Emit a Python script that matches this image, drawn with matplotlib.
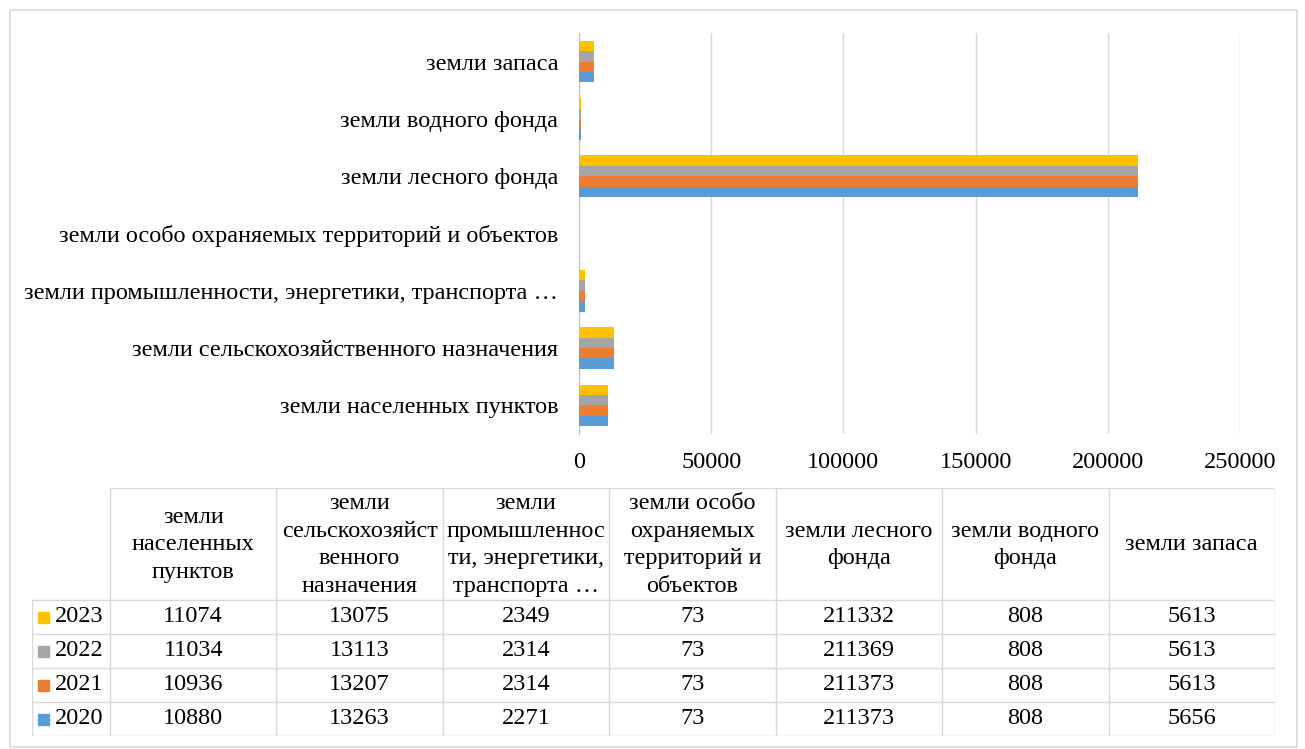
import numpy as np
import matplotlib
matplotlib.use('Agg')
import matplotlib.pyplot as plt
from matplotlib.patches import Rectangle

plt.rcParams['font.family'] = ['Liberation Serif', 'DejaVu Serif']

categories = ['земли населенных пунктов',
              'земли сельскохозяйственного назначения',
              'земли промышленности, энергетики, транспорта …',
              'земли особо охраняемых территорий и объектов',
              'земли лесного фонда',
              'земли водного фонда',
              'земли запаса']
table_headers = ['земли\nнаселенных\nпунктов',
                 'земли\nсельскохозяйст\nвенного\nназначения',
                 'земли\nпромышленнос\nти, энергетики,\nтранспорта …',
                 'земли особо\nохраняемых\nтерриторий и\nобъектов',
                 'земли лесного\nфонда',
                 'земли водного\nфонда',
                 'земли запаса']
years = ['2020', '2021', '2022', '2023']
v2020 = [10880, 13263, 2271, 73, 211373, 808, 5656]
v2021 = [10936, 13207, 2314, 73, 211373, 808, 5613]
v2022 = [11034, 13113, 2314, 73, 211369, 808, 5613]
v2023 = [11074, 13075, 2349, 73, 211332, 808, 5613]
series = [v2020, v2021, v2022, v2023]
colors = ['#5B9BD5', '#ED7D31', '#A5A5A5', '#FFC000']

W, H = 1305, 749
fig = plt.figure(figsize=(W / 100, H / 100), dpi=100)
fs = 17.5

# outer frame
fig.patches.append(Rectangle((10 / W, 2 / H), 1287 / W, 737 / H, transform=fig.transFigure,
                             fill=False, edgecolor='#d9d9d9', lw=1.2))

ax = fig.add_axes([579 / W, 1 - 434 / H, 661 / W, 401 / H])
y = np.arange(len(categories))
h = 0.182
for i, (vals, c) in enumerate(zip(series, colors)):
    ax.barh(y + (i - 1.5) * h, vals, height=h, color=c, zorder=3)
ax.set_xlim(0, 250000)
ax.set_ylim(-0.5, len(categories) - 0.5)
ax.set_xticks(np.arange(0, 250001, 50000))
ax.set_yticks(y)
ax.set_yticklabels(categories, fontsize=fs)
ax.tick_params(axis='x', labelsize=fs, length=0, pad=13)
ax.tick_params(axis='y', length=0, pad=15)
ax.grid(axis='x', color='#d9d9d9', lw=1, zorder=0)
for s in ['top', 'right', 'bottom']:
    ax.spines[s].set_visible(False)
ax.spines['left'].set_color('#bfbfbf')

# data table
tx0, tx1 = 32, 1275
ty0, ty1 = 488, 736
tax = fig.add_axes([tx0 / W, 1 - ty1 / H, (tx1 - tx0) / W, (ty1 - ty0) / H])
tax.set_xlim(tx0, tx1)
tax.set_ylim(ty1, ty0)
tax.axis('off')
col0 = 110
cw = (tx1 - col0) / len(categories)
head_bot = 600
rh = (ty1 - head_bot) / len(years)
lc = '#d9d9d9'
# horizontal lines
tax.plot([col0, tx1], [ty0, ty0], color=lc, lw=1)
for r in range(len(years) + 1):
    yy = head_bot + r * rh
    tax.plot([tx0, tx1], [yy, yy], color=lc, lw=1)
# vertical lines
tax.plot([tx0, tx0], [head_bot, ty1], color=lc, lw=1)
for c in range(len(categories) + 1):
    xx = col0 + c * cw
    tax.plot([xx, xx], [ty0, ty1], color=lc, lw=1)
for c, lab in enumerate(table_headers):
    tax.text(col0 + (c + 0.5) * cw, (ty0 + head_bot) / 2 + 1, lab, ha='center', va='center',
             fontsize=fs, linespacing=1.42)
rows = list(zip(years, series, colors))[::-1]
for r, (yr, vals, col) in enumerate(rows):
    yc = head_bot + (r + 0.5) * rh
    tax.add_patch(Rectangle((38, yc - 5.5), 11, 11, color=col))
    tax.text(55, yc, yr, ha='left', va='center', fontsize=fs)
    for c, v in enumerate(vals):
        tax.text(col0 + (c + 0.5) * cw, yc, str(v), ha='center', va='center', fontsize=fs)

fig.savefig('out.png', dpi=100)
